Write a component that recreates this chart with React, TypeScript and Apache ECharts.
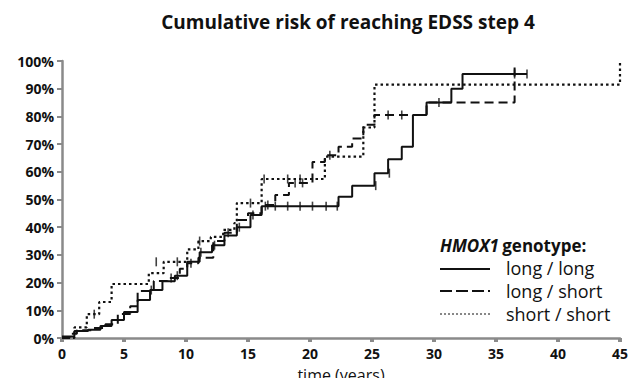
import React, { useEffect, useRef } from "react";
import * as echarts from "echarts";

// long / long (solid)
const llTimes = [0, 1.0, 2.1, 3.1, 4.0, 5.0, 6.1, 7.1, 8.1, 9.1, 10.1, 11.1, 12.1, 13.1, 14.1, 15.2, 16.1, 22.3, 23.4, 25.2, 26.3, 27.4, 28.3, 29.4, 31.4, 32.3, 37.5];
const llRisk = [0.5, 2.5, 3.0, 4.3, 6.5, 9.4, 13.7, 17.3, 20.5, 22.5, 27.5, 31, 33.5, 37, 40, 44.4, 47.6, 51, 55, 59.5, 64.5, 69, 80.5, 85, 90, 95.3, 95.3];
const llCensorT = [7.2, 9.3, 11.2, 12.3, 14.3, 15.4, 16.4, 17.2, 18.2, 19.2, 20.2, 21.3, 22.2, 25.3, 26.4, 36.5, 37.5];
const llCensorP = [17.3, 22.5, 31, 33.5, 40, 44.4, 47.6, 47.6, 47.6, 47.6, 47.6, 47.6, 47.6, 55, 59.5, 95.3, 95.3];

// long / short (dashed)
const lsTimes = [0, 0.6, 1.2, 2.5, 3.5, 4.5, 5.5, 6.1, 7.4, 8.5, 9.5, 10.1, 11.0, 12.2, 13.1, 14.1, 15.0, 16.1, 17.2, 18.3, 20.2, 21.2, 22.3, 23.4, 24.3, 25.2, 29.4, 36.5, 36.5];
const lsRisk = [0, 1.5, 2.8, 3.6, 5.0, 8.7, 11.5, 17, 20.6, 21.7, 25, 27, 29, 35, 38, 42.6, 45, 48, 51.6, 56, 63.5, 66, 69, 72, 77, 80.5, 85, 85, 98];
const lsCensorT = [8.8, 10.4, 13.4, 16.6, 18.8, 19.4, 21.6, 26.3, 27.4, 30.4];
const lsCensorP = [21.7, 27, 38, 48, 56, 56, 66, 80.5, 80.5, 85];

// short / short (dotted)
const ssTimes = [0, 1.0, 2.0, 3.0, 4.0, 7.0, 8.2, 10.1, 11.0, 12.0, 13.0, 13.9, 14.1, 16.1, 21.2, 24.3, 25.2, 45, 45];
const ssRisk = [0, 3.8, 8.6, 13, 19.5, 23.4, 27.5, 32, 35, 36.5, 39, 41.5, 48.7, 57.4, 65.5, 76, 91.5, 91.5, 100];
const ssCensorT = [2.6, 7.6, 9.3, 11.1, 15.2, 16.3, 18.2, 19.2];
const ssCensorP = [8.6, 27.5, 27.5, 35, 48.7, 57.4, 57.4, 57.4];

const legendNames = ["long / long", "long / short", "short / short"];

const FONT = "'Open Sans', 'Liberation Sans', sans-serif";

function zip(a: number[], b: number[]) {
  return a.map((t, i) => [t, b[i]]);
}

export default function App() {
  const ref = useRef<HTMLDivElement>(null);
  useEffect(() => {
    if (!ref.current) return;
    const chart = echarts.init(ref.current, undefined, { renderer: "svg" });
    const censor = (t: number[], p: number[]) => ({
      type: "scatter",
      data: zip(t, p),
      symbol: "rect",
      symbolSize: [1.6, 9],
      itemStyle: { color: "#111" },
      silent: true,
      z: 5,
    });
    chart.setOption({
      animation: false,
      backgroundColor: "#fff",
      grid: { left: 62, right: 19, top: 61, bottom: 48, containLabel: false },
      xAxis: {
        type: "value",
        min: 0,
        max: 45,
        interval: 5,
        axisLine: { lineStyle: { color: "#8a8a8a", width: 2.5 } },
        axisTick: { show: true, length: 4, lineStyle: { color: "#8a8a8a", width: 4 } },
        axisLabel: { fontFamily: FONT, fontWeight: "bold", fontSize: 14, color: "#111", margin: 8 },
        splitLine: { show: false },
      },
      yAxis: {
        type: "value",
        min: 0,
        max: 100,
        interval: 10,
        axisLine: { show: true, lineStyle: { color: "#8a8a8a", width: 2.5 } },
        axisTick: { show: true, length: 5, lineStyle: { color: "#8a8a8a", width: 2 } },
        axisLabel: { formatter: "{value}%", fontFamily: FONT, fontWeight: "bold", fontSize: 14, color: "#111", margin: 8 },
        splitLine: { show: false },
      },
      series: [
        {
          name: legendNames[0],
          type: "line",
          step: "end",
          data: zip(llTimes, llRisk),
          showSymbol: false,
          lineStyle: { color: "#111", width: 2, type: "solid" },
          clip: false,
        },
        {
          name: legendNames[1],
          type: "line",
          step: "end",
          data: zip(lsTimes, lsRisk),
          showSymbol: false,
          lineStyle: { color: "#111", width: 2, type: [9, 5] },
          clip: false,
        },
        {
          name: legendNames[2],
          type: "line",
          step: "end",
          data: zip(ssTimes, ssRisk),
          showSymbol: false,
          lineStyle: { color: "#111", width: 2.2, type: [2.5, 3] },
          clip: false,
        },
        censor(llCensorT, llCensorP),
        censor(lsCensorT, lsCensorP),
        censor(ssCensorT, ssCensorP),
      ],
      graphic: [
        {
          type: "text",
          x: 348,
          y: 22,
          style: {
            text: "Cumulative risk of reaching EDSS step 4",
            fontFamily: FONT,
            fontWeight: "bold",
            fontSize: 19,
            fill: "#111",
            align: "center",
            verticalAlign: "middle",
          },
        },
        {
          type: "text",
          x: 341,
          y: 375,
          style: {
            text: "time (years)",
            fontFamily: FONT,
            fontSize: 16,
            fill: "#111",
            align: "center",
            verticalAlign: "middle",
          },
        },
        {
          type: "text",
          x: 440,
          y: 245,
          style: {
            text: "{i|HMOX1} {b|genotype:}",
            verticalAlign: "middle",
            rich: {
              i: { fontFamily: FONT, fontWeight: "bold", fontStyle: "italic", fontSize: 17, fill: "#111" },
              b: { fontFamily: FONT, fontWeight: "bold", fontSize: 17, fill: "#111" },
            },
          },
        },
        { type: "line", shape: { x1: 440, y1: 269, x2: 490, y2: 269 }, style: { stroke: "#111", lineWidth: 2 } },
        { type: "line", shape: { x1: 440, y1: 291, x2: 490, y2: 291 }, style: { stroke: "#111", lineWidth: 2, lineDash: [12, 4] } },
        { type: "line", shape: { x1: 440, y1: 314, x2: 490, y2: 314 }, style: { stroke: "#111", lineWidth: 1, lineDash: [2, 2] } },
        ...legendNames.map((n, i) => ({
          type: "text",
          x: 506,
          y: 268 + i * 23,
          style: { text: n, fontFamily: FONT, fontSize: 18, fill: "#111", verticalAlign: "middle" },
        })),
      ],
    });
    return () => chart.dispose();
  }, []);
  return <div ref={ref} style={{ width: 639, height: 386, margin: -8 }} />;
}
